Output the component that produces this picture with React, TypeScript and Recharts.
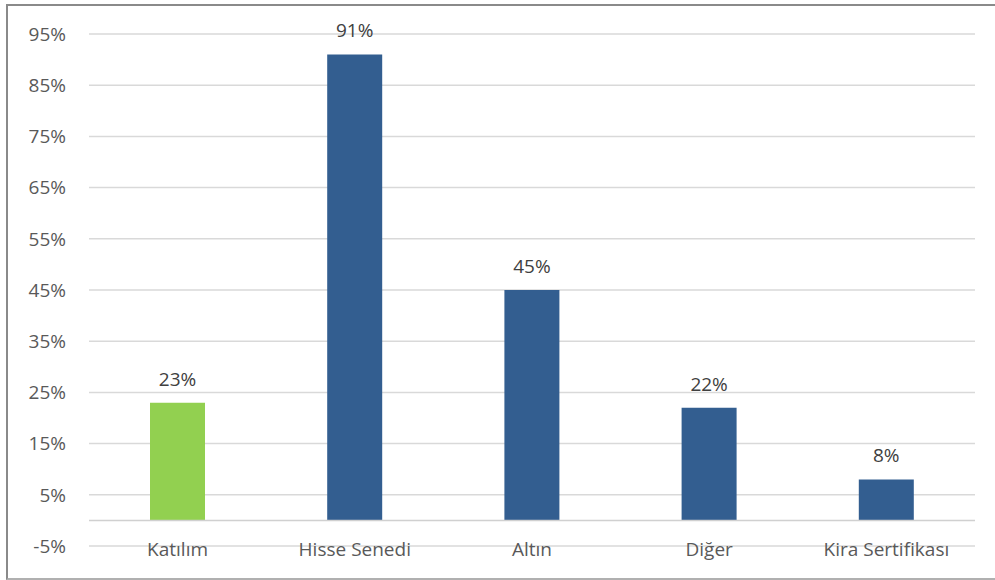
import React from 'react';
import { BarChart, Bar, XAxis, YAxis, CartesianGrid, ReferenceLine, LabelList, Cell } from 'recharts';

const categories = ['Katılım', 'Hisse Senedi', 'Altın', 'Diğer', 'Kira Sertifikası'];
const shares = [23, 91, 45, 22, 8];
const barColors = ['#92D050', '#335E90', '#335E90', '#335E90', '#335E90'];
const yTicks = [-5, 5, 15, 25, 35, 45, 55, 65, 75, 85, 95];

const data = categories.map((name, i) => ({ name, value: shares[i] }));

const font = '"Open Sans", "Noto Sans", sans-serif';

const App: React.FC = () => {
  return (
    <div style={{ position: 'absolute', left: 0, top: 0, width: 995, height: 580, background: '#fff' }}>
      <div
        style={{
          position: 'absolute',
          left: 6,
          top: 4,
          width: 989,
          height: 576,
          boxSizing: 'border-box',
          borderTop: '2px solid #8a8a8a',
          borderLeft: '2px solid #8a8a8a',
          borderBottom: '2px solid #b0b0b0',
        }}
      />
      <div style={{ position: 'absolute', left: 0, top: 0 }}>
        <BarChart
          width={995}
          height={580}
          data={data}
          margin={{ top: 34, right: 20, bottom: 0, left: 0 }}
          style={{ fontFamily: font }}
        >
          <CartesianGrid vertical={false} stroke="#d9d9d9" strokeWidth={1.5} />
          <XAxis
            dataKey="name"
            height={34}
            axisLine={false}
            tickLine={false}
            tickSize={0}
            tickMargin={-3}
            tick={{ fill: '#595959', fontSize: 19 }}
          />
          <YAxis
            width={89}
            domain={[-5, 95]}
            ticks={yTicks}
            interval={0}
            axisLine={false}
            tickLine={false}
            tickSize={0}
            tickMargin={23}
            tickFormatter={(v: number) => `${v}%`}
            tick={{ fill: '#595959', fontSize: 19 }}
          />
          <ReferenceLine y={0} stroke="#d0d0d0" strokeWidth={1.5} />
          <Bar dataKey="value" barSize={55} isAnimationActive={false}>
            {data.map((d, i) => (
              <Cell key={d.name} fill={barColors[i]} />
            ))}
            <LabelList
              dataKey="value"
              position="top"
              offset={17}
              formatter={(v: number) => `${v}%`}
              style={{ fill: '#404040', fontSize: 19, fontFamily: font }}
            />
          </Bar>
        </BarChart>
      </div>
    </div>
  );
};

export default App;
